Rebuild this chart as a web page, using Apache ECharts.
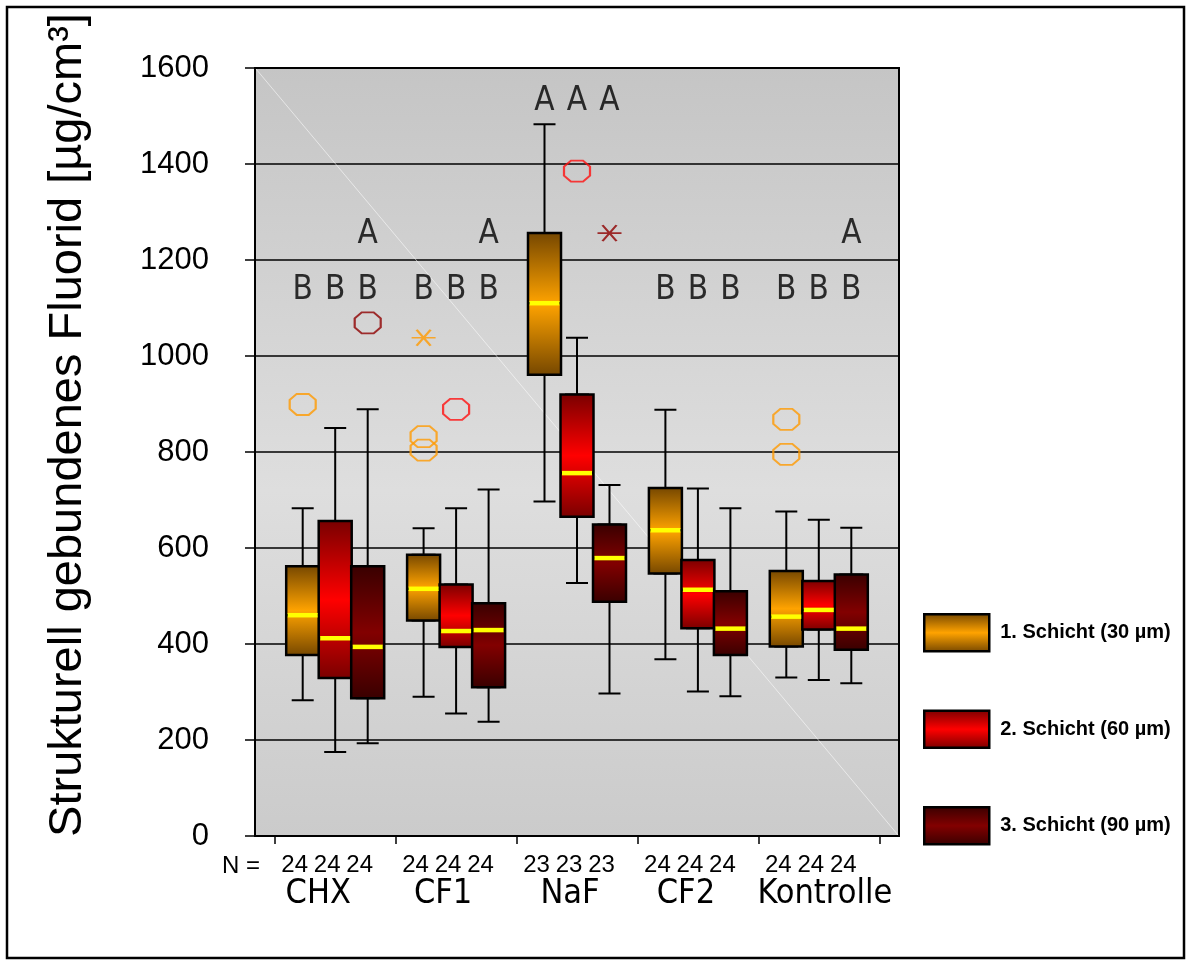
<!DOCTYPE html>
<html><head><meta charset="utf-8">
<script src="https://cdn.jsdelivr.net/npm/echarts@6/dist/echarts.min.js"></script>
<style>html,body{margin:0;padding:0;background:#fff}#c{width:1191px;height:965px}</style>
</head><body><div id="c"></div>
<script>
// ---------- data ----------
const categories = ['CHX', 'CF1', 'NaF', 'CF2', 'Kontrolle'];
const layerNames = ['1. Schicht (30 µm)', '2. Schicht (60 µm)', '3. Schicht (90 µm)'];
// [min, Q1, median, Q3, max]
const layer1 = [[283, 377, 460, 562, 683], [290, 449, 515, 586, 641], [697, 961, 1110, 1256, 1483], [368, 547, 637, 725, 888], [330, 395, 457, 552, 676]];
const layer2 = [[175, 329, 412, 656, 850], [255, 394, 427, 524, 683], [527, 665, 756, 920, 1038], [301, 433, 513, 575, 724], [325, 430, 471, 531, 659]];
const layer3 = [[193, 287, 394, 562, 889], [238, 310, 429, 485, 722], [297, 488, 579, 649, 731], [291, 377, 432, 510, 683], [318, 388, 432, 545, 642]];
// outliers [categoryIndex, value]
const outliers1 = [[0, 899], [1, 832], [1, 804], [4, 868], [4, 795]];
const extremes1 = [[1, 1038]];
const outliers2 = [[1, 889], [2, 1385]];
const extremes2 = [];
const outliers3 = [[0, 1069]];
const extremes3 = [[2, 1256]];
// sample sizes
const nL1 = [24, 24, 23, 24, 24];
const nL2 = [24, 24, 23, 24, 24];
const nL3 = [24, 24, 23, 24, 24];
// significance letters [categoryIndex, value, letter]
const letters1 = [[0, 1136, 'B'], [1, 1136, 'B'], [2, 1531, 'A'], [3, 1136, 'B'], [4, 1136, 'B']];
const letters2 = [[0, 1136, 'B'], [1, 1136, 'B'], [2, 1531, 'A'], [3, 1136, 'B'], [4, 1136, 'B']];
const letters3 = [[0, 1136, 'B'], [0, 1253, 'A'], [1, 1136, 'B'], [1, 1253, 'A'], [2, 1531, 'A'], [3, 1136, 'B'], [4, 1136, 'B'], [4, 1253, 'A']];
const yMin = 0, yMax = 1600, yStep = 200;

// ---------- styles ----------
const COND = "'DejaVu Sans Condensed', 'DejaVu Sans', sans-serif";
const REG = "'Liberation Sans', Arial, sans-serif";
function vgrad(a, b) {
  return {type: 'linear', x: 0, y: 0, x2: 0, y2: 1, colorStops: [{offset: 0, color: a}, {offset: 0.5, color: b}, {offset: 1, color: a}]};
}
const fills = [vgrad('#744600', '#ffa300'), vgrad('#780000', '#ff0000'), vgrad('#380000', '#820000')];
const outColors = ['#ff9a00', '#ff1010', '#8e0000'];
const octagon = 'path://M7,0 L19,0 L26,6 L26,15 L19,21 L7,21 L0,15 L0,6 Z';
const asterisk = 'path://M0,8 L24,8 M5,0 L19,16 M19,0 L5,16';
const catLabelShift = [-17, -13, -7, -12, 6];

const layers = [
  {box: layer1, out: outliers1, ext: extremes1, n: nL1, let: letters1},
  {box: layer2, out: outliers2, ext: extremes2, n: nL2, let: letters2},
  {box: layer3, out: outliers3, ext: extremes3, n: nL3, let: letters3}
];

const plotTop = 68, plotBottom = 129;
const band = 120.9, boxStep = 32.5, firstCenter = 335.2;
const grids = [{left: 255, top: plotTop, width: 644, bottom: plotBottom, show: true,
  backgroundColor: {type: 'linear', x: 0, y: 0, x2: 0, y2: 1, colorStops: [{offset: 0, color: '#c5c5c5'}, {offset: 0.55, color: '#dedede'}, {offset: 1, color: '#cbcbcb'}]},
  borderColor: '#000', borderWidth: 2, outerBoundsMode: 'none'}];
const xAxes = [{gridIndex: 0, type: 'value', min: 0, max: 1, show: false}];
const yAxes = [{gridIndex: 0, type: 'value', min: yMin, max: yMax, interval: yStep,
  axisLine: {show: true, lineStyle: {color: '#000', width: 2}},
  axisTick: {show: true, length: 10, lineStyle: {color: '#000', width: 1.5}},
  axisLabel: {fontFamily: REG, fontSize: 31, color: '#000', margin: 46, formatter: v => String(v)},
  splitLine: {show: true, lineStyle: {color: '#000', width: 1.5}}}];
const series = [];
let boxGridOfMiddle = 0;

layers.forEach((L, k) => {
  const left = firstCenter - band / 2 + (k - 1) * boxStep;
  // grid for whiskers
  const gw = grids.length;
  grids.push({left: left, top: plotTop, width: band * 5, bottom: plotBottom, show: false, outerBoundsMode: 'none'});
  xAxes.push({gridIndex: gw, type: 'category', data: categories, show: false});
  yAxes.push({gridIndex: gw, type: 'value', min: yMin, max: yMax, show: false});
  // grid for boxes and points
  const gb = grids.length;
  if (k === 1) boxGridOfMiddle = gb;
  grids.push({left: left, top: plotTop, width: band * 5, bottom: plotBottom, show: false, outerBoundsMode: 'none'});
  xAxes.push({gridIndex: gb, type: 'category', data: categories,
    axisLine: {show: false}, axisTick: {show: false}, splitLine: {show: false},
    axisLabel: {interval: 0, formatter: (v, i) => String(L.n[i]), fontFamily: REG, fontSize: 24, color: '#000', margin: 17, padding: [0, 16, 0, 0]}});
  yAxes.push({gridIndex: gb, type: 'value', min: yMin, max: yMax, show: false});

  series.push({type: 'boxplot', xAxisIndex: gw, yAxisIndex: gw, data: L.box, boxWidth: [22, 22], silent: true,
    itemStyle: {color: 'rgba(0,0,0,0)', borderColor: '#000', borderWidth: 2}, emphasis: {disabled: true}, z: 2});
  series.push({type: 'boxplot', name: layerNames[k], xAxisIndex: gb, yAxisIndex: gb,
    data: L.box.map(d => [d[1], d[1], d[2], d[3], d[3]]), boxWidth: [33, 33],
    itemStyle: {color: fills[k], borderColor: '#000', borderWidth: 2.5}, emphasis: {disabled: true}, z: 3});
  series.push({type: 'scatter', xAxisIndex: gb, yAxisIndex: gb, data: L.box.map((d, i) => [i, d[2]]),
    symbol: 'rect', symbolSize: [30, 4.5], itemStyle: {color: '#ffff00', opacity: 1}, silent: true, z: 10});
  series.push({type: 'scatter', xAxisIndex: gb, yAxisIndex: gb, data: L.out, symbol: octagon, symbolSize: [26, 21],
    itemStyle: {color: 'rgba(0,0,0,0)', borderColor: outColors[k], borderWidth: 2}, silent: true, z: 10});
  series.push({type: 'scatter', xAxisIndex: gb, yAxisIndex: gb, data: L.ext, symbol: asterisk, symbolSize: [24, 16],
    itemStyle: {color: 'rgba(0,0,0,0)', borderColor: outColors[k], borderWidth: 2}, silent: true, z: 10});
  series.push({type: 'scatter', xAxisIndex: gb, yAxisIndex: gb, data: L.let, symbolSize: 0.1,
    itemStyle: {color: 'rgba(0,0,0,0)'}, silent: true, z: 10,
    label: {show: true, position: 'inside', formatter: p => p.value[2], fontFamily: COND, fontSize: 33, color: '#000'}});
});

// category names on the middle layer's grid
const catRich = {};
catLabelShift.forEach((s, i) => {
  catRich['c' + i] = {fontFamily: COND, fontSize: 34, color: '#000', padding: s < 0 ? [0, -2 * s, 0, 0] : [0, 0, 0, 2 * s]};
});
xAxes.push({gridIndex: boxGridOfMiddle, type: 'category', data: categories, position: 'bottom',
  axisLine: {show: false}, splitLine: {show: false},
  axisTick: {show: true, length: 8, lineStyle: {color: '#000', width: 1.5}},
  axisLabel: {interval: 0, margin: 41, formatter: (v, i) => '{c' + i + '|' + v + '}', rich: catRich}});

const chart = echarts.init(document.getElementById('c'), null, {renderer: 'canvas'});
chart.setOption({
  animation: false,
  backgroundColor: '#fff',
  grid: grids, xAxis: xAxes, yAxis: yAxes, series: series,
  legend: {data: layerNames.map((n, k) => ({name: n, itemStyle: {color: fills[k], borderColor: '#000', borderWidth: 2.5}})),
    orient: 'vertical', left: 923, top: 613, padding: 0,
    itemWidth: 65, itemHeight: 37, itemGap: 57, icon: 'rect', selectedMode: false,
    textStyle: {fontFamily: REG, fontWeight: 'bold', fontSize: 20, color: '#000', padding: [0, 0, 0, 6]}},
  graphic: [
    {type: 'line', shape: {x1: 256, y1: 69, x2: 898, y2: 835}, style: {stroke: 'rgba(255,255,255,0.55)', lineWidth: 1}, z: 1, silent: true},
    {type: 'rect', shape: {x: 7, y: 7, width: 1177, height: 951}, style: {fill: 'none', stroke: '#000', lineWidth: 2.5}, silent: true},
    {type: 'text', x: 222, y: 866, style: {text: 'N =', fontFamily: REG, fontSize: 24, fill: '#000', verticalAlign: 'middle'}, silent: true},
    {type: 'text', x: 68, y: 425, rotation: Math.PI / 2, style: {text: 'Strukturell gebundenes Fluorid [µg/cm³]', fontFamily: REG, fontSize: 47, fill: '#000', align: 'center', verticalAlign: 'middle'}, silent: true}
  ]
});
</script></body></html>
